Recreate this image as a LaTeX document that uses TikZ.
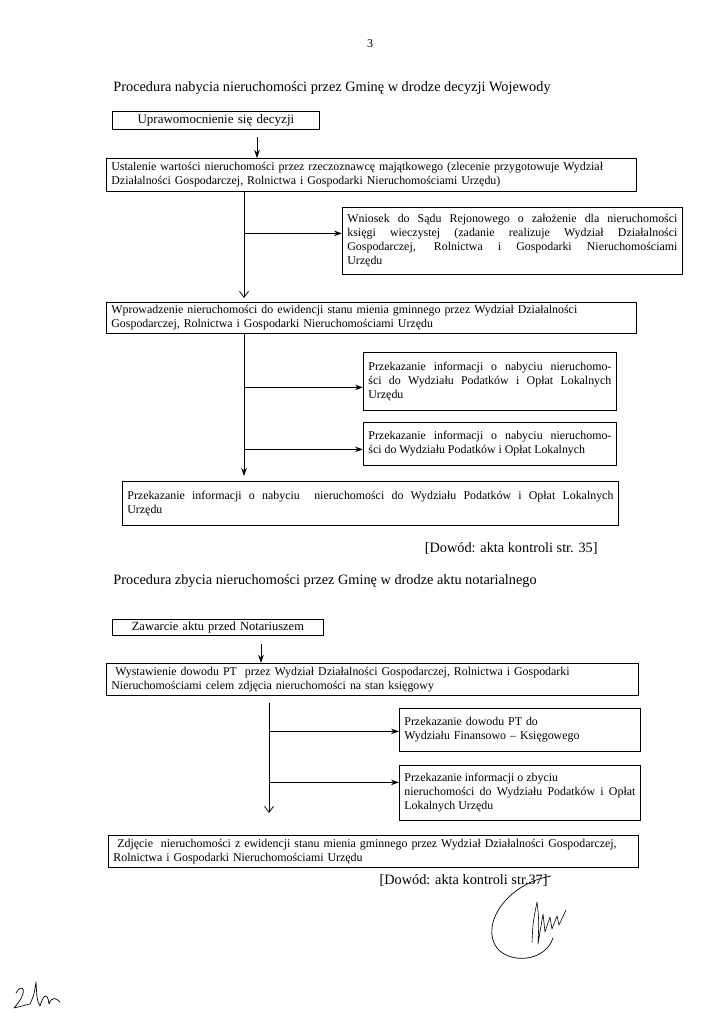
\documentclass[tikz,border=0pt]{standalone}
\usepackage{fontspec}
\setmainfont{Liberation Serif}
\usetikzlibrary{arrows.meta, positioning}
\hyphenpenalty=10000
\exhyphenpenalty=10000
\tikzset{
    flow/.style={x=1pt, y=-1pt, line width=0.8pt},
    flowbox/.style={draw, line width=0.8pt, anchor=north west, inner xsep=5pt, inner ysep=2pt,
        font=\fontsize{11.9}{14}\selectfont, align=left},
    jbox/.style={flowbox, align=justify},
    head/.style={anchor=west, inner xsep=0pt, font=\fontsize{14.3}{17}\selectfont},
    evidence/.style={anchor=east, inner xsep=0pt, font=\fontsize{14.3}{17}\selectfont},
    fill arrow/.style={-{Stealth[length=8pt, width=5.5pt]}},
    open arrow/.style={-{Straight Barb[length=6pt, width=9pt]}},
    % handwriting on the scan
    pen/.style={line width=0.7pt, line cap=round, line join=round},
}

\begin{document}
\begin{tikzpicture}[flow]
    \fill[white] (0,0) rectangle (723,1024);
    \useasboundingbox (0,0) rectangle (723,1024);

    \node[font=\fontsize{12}{14}\selectfont] (page) at (370,44) {3};
    \node[head] (title1) at (113,88) {Procedura nabycia nieruchomości przez Gminę w drodze decyzji Wojewody};

    % nabycie
    \node[flowbox, text width=197pt, minimum height=18pt, align=center, font=\fontsize{13}{15}\selectfont]
        (decision) at (112,111) {Uprawomocnienie się decyzji};
    \node[flowbox, text width=520pt, minimum height=33pt] (valuation) at (106,158)
        {Ustalenie wartości nieruchomości przez rzeczoznawcę majątkowego (zlecenie przygotowuje Wydział\\
         Działalności Gospodarczej, Rolnictwa i Gospodarki Nieruchomościami Urzędu)};
    \node[jbox, text width=330pt, minimum height=67pt] (landreg) at (342,207)
        {Wniosek do Sądu Rejonowego o założenie dla nieruchomości\linebreak
         księgi wieczystej (zadanie realizuje Wydział Działalności\linebreak
         Gospodarczej, Rolnictwa i Gospodarki Nieruchomościami\linebreak Urzędu};
    \node[flowbox, text width=520pt, minimum height=31pt] (registry) at (106,302)
        {Wprowadzenie nieruchomości do ewidencji stanu mienia gminnego przez Wydział Działalności\\
         Gospodarczej, Rolnictwa i Gospodarki Nieruchomościami Urzędu};
    \node[jbox, text width=243pt, minimum height=58pt] (taxinfoA) at (363,352)
        {Przekazanie informacji o nabyciu nieruchomo-\linebreak
         ści do Wydziału Podatków i Opłat Lokalnych\linebreak Urzędu};
    \node[jbox, text width=243pt, minimum height=43pt] (taxinfoB) at (363,422)
        {Przekazanie informacji o nabyciu nieruchomo-\linebreak
         ści do Wydziału Podatków i Opłat Lokalnych};
    \node[jbox, text width=486pt, minimum height=44pt] (taxinfoC) at (122,481)
        {Przekazanie informacji o nabyciu \ nieruchomości do Wydziału Podatków i Opłat Lokalnych\linebreak Urzędu};

    \coordinate (arrA) at (257,0);
    \coordinate (trunkA) at (244,0);
    \coordinate (brA) at ([yshift=7.5pt]landreg.west);
    \coordinate (brB) at ([yshift=-6pt]taxinfoA.west);
    \coordinate (brC) at ([yshift=-5.5pt]taxinfoB.west);

    \draw[fill arrow, shorten <=7pt] (decision.south -| arrA) -- (valuation.north -| arrA);
    \draw[open arrow, shorten >=4pt] (valuation.south -| trunkA) -- (registry.north -| trunkA);
    \draw[fill arrow] (trunkA |- brA) -- (brA);
    \draw[fill arrow, shorten >=5pt] (registry.south -| trunkA) -- (taxinfoC.north -| trunkA);
    \draw[fill arrow] (trunkA |- brB) -- (brB);
    \draw[fill arrow] (trunkA |- brC) -- (brC);

    \node[evidence] (proof1) at (598,548) {[Dowód: akta kontroli str. 35]};

    % zbycie
    \node[head] (title2) at (113,581) {Procedura zbycia nieruchomości przez Gminę w drodze aktu notarialnego};
    \node[flowbox, text width=201pt, minimum height=16pt, align=center, font=\fontsize{12.5}{14}\selectfont]
        (notary) at (112,619) {Zawarcie aktu przed Notariuszem};
    \node[flowbox, text width=522pt, minimum height=32pt] (ptdoc) at (106,663)
        {\ Wystawienie dowodu PT \ przez Wydział Działalności Gospodarczej, Rolnictwa i Gospodarki\\
         Nieruchomościami celem zdjęcia nieruchomości na stan księgowy};
    \node[flowbox, text width=231pt, minimum height=43pt] (finance) at (399,708)
        {Przekazanie dowodu PT do\\ Wydziału Finansowo -- Księgowego};
    \node[jbox, text width=231pt, minimum height=55pt] (saleinfo) at (399,765)
        {Przekazanie informacji o zbyciu\\
         nieruchomości do Wydziału Podatków i Opłat\linebreak Lokalnych Urzędu};
    \node[flowbox, text width=520pt, minimum height=32pt] (removal) at (108,835)
        {\ Zdjęcie \ nieruchomości z ewidencji stanu mienia gminnego przez Wydział Działalności Gospodarczej,\\
         Rolnictwa i Gospodarki Nieruchomościami Urzędu};

    \coordinate (arrB) at (261,0);
    \coordinate (trunkB) at (269,0);
    \coordinate (brD) at ([yshift=-1.5pt]finance.west);
    \coordinate (brE) at ([yshift=10.5pt]saleinfo.west);

    \draw[fill arrow, shorten <=8pt] (notary.south -| arrB) -- (ptdoc.north -| arrB);
    \draw[open arrow, shorten <=7pt, shorten >=22pt] (ptdoc.south -| trunkB) -- (removal.north -| trunkB);
    \draw[fill arrow] (trunkB |- brD) -- (brD);
    \draw[fill arrow] (trunkB |- brE) -- (brE);

    \node[evidence] (proof2) at (548,880) {[Dowód: akta kontroli str.37]};

    % podpisy
    \draw[pen] (551,876) .. controls (506,884) and (480,925) .. (497,948)
        .. controls (510,964) and (545,962) .. (553,938);
    \draw[pen, line width=0.6pt] (532,942) .. controls (533,922) .. (537,902)
        .. controls (539,920) .. (538,944) -- (543,914) -- (545,932) -- (550,917)
        -- (552,929) -- (557,916) -- (559,925) -- (566,910);
    \draw[pen] (16,993) .. controls (22,982) and (30,990) .. (14,1008) -- (30,1004)
        .. controls (34,995) .. (36,982) .. controls (37,1000) .. (40,1006)
        .. controls (44,992) and (48,994) .. (49,1004) .. controls (52,996) and (56,998) .. (60,1002);
\end{tikzpicture}
\end{document}
